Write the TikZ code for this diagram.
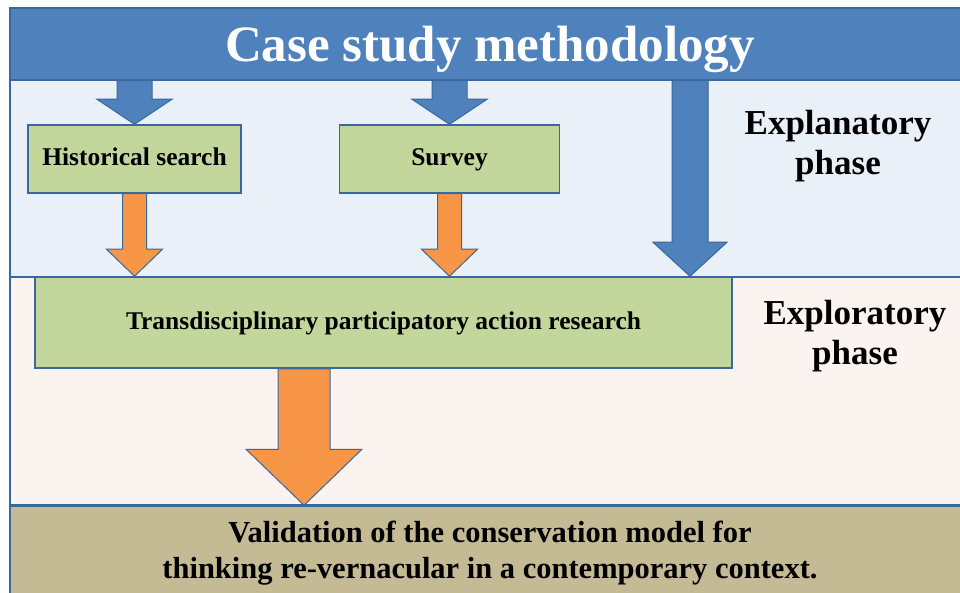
\documentclass[tikz,border=0pt]{standalone}
\usepackage{fontspec}
\setmainfont{Liberation Serif}
\usetikzlibrary{positioning, calc}

\definecolor{bandblue}{HTML}{4F81BD}
\definecolor{edgeblue}{HTML}{3A679E}
\definecolor{explbg}{HTML}{EAF0F8}
\definecolor{explorbg}{HTML}{FAF3F0}
\definecolor{boxgreen}{HTML}{C3D69B}
\definecolor{arroworange}{HTML}{F79646}
\definecolor{validtan}{HTML}{C4BA93}

% block arrow: style, top, tip, shaft half width, head half width, head length
\newcommand{\blockarrow}[6]{%
  \filldraw[#1] ($(#2)+(-#4,0)$) -- ($(#3)+(-#4,-#6)$) -- ($(#3)+(-#5,-#6)$) -- (#3)
    -- ($(#3)+(#5,-#6)$) -- ($(#3)+(#4,-#6)$) -- ($(#2)+(#4,0)$) -- cycle;}

\begin{document}
\begin{tikzpicture}[
    x=1pt, y=-1pt,
    band/.style={rectangle, draw=edgeblue, line width=1.5pt, fill=bandblue, text=white,
        minimum width=960pt, minimum height=72pt, text depth=0pt,
        font=\bfseries\fontsize{51}{56}\selectfont},
    step box/.style={rectangle, draw=edgeblue, line width=1.5pt, fill=boxgreen,
        minimum height=68pt, text height=17pt, text depth=4pt,
        font=\bfseries\fontsize{25.5}{28}\selectfont},
    phase/.style={align=center, font=\bfseries\fontsize{35}{40}\selectfont},
    bluearrow/.style={draw=edgeblue, line width=1pt, fill=bandblue},
    orangearrow/.style={draw=edgeblue, line width=1pt, fill=arroworange}
]
\useasboundingbox (0,0) rectangle (960,593);

% Phase backgrounds
\filldraw[draw=edgeblue, line width=1.5pt, fill=explbg] (10,80) rectangle (975,277);
\filldraw[draw=edgeblue, line width=1.5pt, fill=explorbg] (10,277) rectangle (975,505);

% Title band
\node[band] (top) at (490,44) {Case study methodology};

% Explanatory phase
\node[step box, minimum width=213pt] (hist) at (134.5,159) {Historical search};
\node[step box, minimum width=220pt, right=97pt of hist] (surv) {Survey};
\node[phase] (expl) at (838,146) {Explanatory\\phase};

% Exploratory phase
\node[step box, minimum width=697pt, minimum height=91pt] (tar) at (383.5,322.5)
    {Transdisciplinary participatory action research};
\node[phase] (explor) at (855,336) {Exploratory\\phase};

% Validation band
\node[rectangle, draw=edgeblue, line width=1.5pt, fill=validtan, minimum width=960pt,
    minimum height=95pt, align=center, font=\bfseries\fontsize{30.5}{36}\selectfont]
    (valid) at (490,553.5) {Validation of the conservation model for\\
    thinking re-vernacular in a contemporary context.};

% Arrows
\coordinate (c1) at (690,0);
\coordinate (c2) at (304,0);
\coordinate (b1) at (top.south -| hist.north);
\coordinate (b2) at (top.south -| surv.north);
\coordinate (b3) at (top.south -| c1);
\coordinate (t3) at (tar.north -| c1);
\coordinate (o1) at (tar.north -| hist.south);
\coordinate (o2) at (tar.north -| surv.south);
\coordinate (o3) at (tar.south -| c2);
\coordinate (v3) at (valid.north -| c2);

\blockarrow{bluearrow}{b1}{hist.north}{17.5}{37.5}{25}
\blockarrow{bluearrow}{b2}{surv.north}{17.5}{37.5}{25}
\blockarrow{bluearrow}{b3}{t3}{18}{37}{34}
\blockarrow{orangearrow}{hist.south}{o1}{12}{28}{27}
\blockarrow{orangearrow}{surv.south}{o2}{12}{28}{27}
\blockarrow{orangearrow}{o3}{v3}{26}{58}{56}

\end{tikzpicture}
\end{document}
